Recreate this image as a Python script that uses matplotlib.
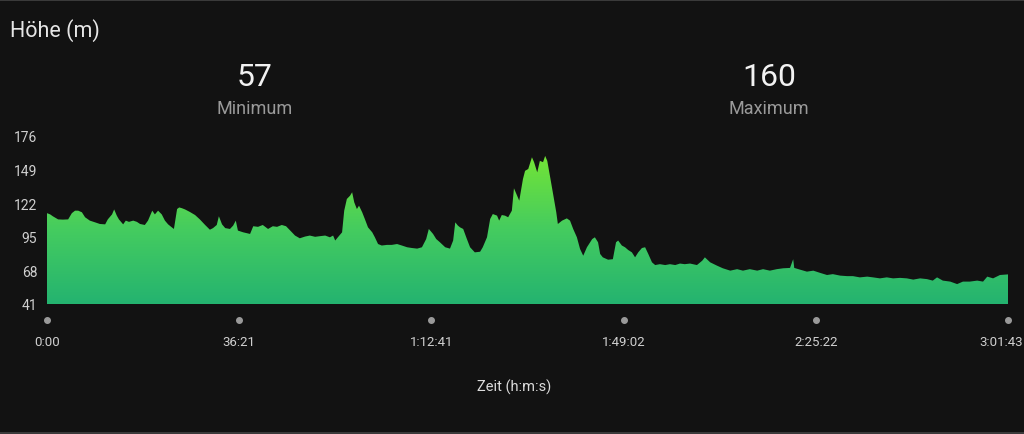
import matplotlib
matplotlib.use('Agg')
import matplotlib.pyplot as plt
import numpy as np
from matplotlib.colors import LinearSegmentedColormap
from matplotlib.patches import Rectangle
from matplotlib.transforms import blended_transform_factory, ScaledTranslation

# time in minutes since start, elevation in metres
minutes = [
    0.0, 0.6, 1.1, 2.1, 3.0, 4.0, 4.7, 5.3, 5.9, 6.6, 7.2, 8.1, 9.1, 10.0, 11.0,
    11.5, 12.3, 12.7, 13.2, 13.6, 14.4, 14.9, 15.5, 16.3, 17.0, 17.6, 18.5, 19.1,
    19.9, 20.4, 21.0, 21.7, 22.3, 22.9, 23.6, 24.0, 24.6, 25.0, 25.5, 26.1, 27.0,
    28.0, 28.9, 29.9, 30.8, 31.4, 32.1, 32.5, 33.1, 33.7, 34.6, 35.2, 35.7, 36.1,
    37.1, 38.4, 39.0, 39.9, 40.8, 41.8, 42.7, 43.5, 44.4, 45.2, 46.0, 46.9, 47.8,
    48.8, 49.7, 50.7, 51.6, 52.6, 53.5, 54.1, 54.5, 55.0, 55.8, 56.2, 56.7, 57.3,
    57.7, 58.1, 58.6, 59.0, 59.6, 60.1, 60.7, 61.5, 62.0, 62.6, 63.3, 64.3, 65.2,
    66.2, 67.1, 68.1, 69.0, 70.0, 70.9, 71.7, 72.2, 73.0, 73.6, 74.3, 75.3, 76.2,
    76.8, 77.2, 77.7, 78.1, 78.7, 79.4, 80.0, 80.9, 81.9, 82.4, 83.2, 83.8, 84.3,
    85.1, 85.5, 86.0, 86.6, 87.2, 87.9, 88.3, 88.9, 89.3, 90.0, 90.4, 91.0, 91.7,
    92.1, 92.7, 93.2, 93.8, 94.2, 94.6, 95.1, 95.7, 96.3, 96.6, 97.4, 98.3, 98.9,
    99.5, 100.2, 100.8, 101.4, 102.1, 103.1, 103.6, 104.2, 104.6, 105.1, 106.1,
    107.0, 107.6, 108.0, 108.7, 109.3, 109.9, 110.6, 111.2, 111.8, 112.5, 113.1,
    113.7, 114.4, 115.0, 115.9, 116.9, 117.8, 118.8, 119.7, 120.6, 121.6, 122.9,
    123.9, 124.4, 125.4, 126.7, 127.8, 129.2, 130.5, 131.6, 132.9, 134.3, 135.4,
    136.7, 138.0, 139.2, 140.5, 141.1, 141.3, 142.4, 143.7, 144.9, 146.2, 147.5,
    148.6, 150.0, 151.3, 152.4, 153.7, 155.1, 156.2, 157.5, 158.8, 160.0, 161.3,
    162.6, 163.8, 165.1, 166.4, 167.5, 168.3, 169.4, 170.8, 172.1, 173.2, 174.5,
    175.9, 177.0, 177.8, 178.9, 180.2, 181.72,
]
elevation = [
    114, 113, 111.5, 109, 108.8, 109, 114, 116, 116, 114.7, 110.7, 108, 106.6,
    105.3, 105, 109, 113, 117, 112, 109, 105, 108, 107, 108, 107, 105.3, 104.5,
    108, 116, 113, 116, 113, 108, 105, 102.6, 101.3, 117.3, 118.6, 118, 117, 115,
    112.5, 109, 104.5, 100.7, 102, 104.5, 111.5, 105, 102, 101.3, 104, 108, 100,
    98.6, 97.3, 103.5, 103, 104.5, 101.3, 103.5, 103, 104.5, 103.5, 100, 96, 93.8,
    95.2, 96, 95, 95.5, 96, 94.6, 96, 92, 94.6, 98.6, 116, 125.4, 128,
    130.8, 122.7, 117.3, 120, 114.7, 109.3, 102.6, 98.6, 94.6, 89.2, 88, 88.5, 88.5,
    89.2, 88, 86.6, 86, 85.5, 86.6, 93.2, 101.3, 97.3, 93.2, 90.6, 86.6, 85.5,
    92, 106.6, 104, 102.6, 101.3, 93.2, 86.6, 82.5, 83, 86.6, 94.6, 109.3, 113.3,
    112, 108, 112.5, 112, 110.7, 116, 134, 128, 124, 141.4, 148, 149.5, 158.9,
    155, 146.8, 156, 155, 160, 156, 144, 129.4, 114.7, 105.3, 108, 109.8, 108,
    101.3, 94.6, 85.2, 79.8, 86.6, 93.2, 94.6, 90.6, 81.2, 78.5, 76.6,
    77, 90.6, 92, 88, 86.6, 84.4, 82.5, 78.5, 82.5, 86, 86.6,
    81.2, 74.5, 72.3, 73, 72.3, 73, 72.3, 73.5, 73, 73.5, 72.3,
    75.8, 78.5, 74.5, 71.8, 69.7, 67.8, 69, 67.8, 69, 67.8, 69,
    67.8, 69, 69.7, 70, 77, 70, 68.6, 67, 67.8, 66, 64.3,
    65, 63.8, 63.4, 63.4, 62.4, 63, 62.4, 61.6, 62.4, 61.6, 62,
    61.6, 60.6, 61.6, 61, 59.8, 62.4, 59.8, 59, 57, 59, 59,
    59.8, 59, 63, 61.6, 64.3, 64.8,
]

y_ticks = [41, 68, 95, 122, 149, 176]
x_ticks = [0, 36.35, 72.68, 109.03, 145.37, 181.72]
x_labels = ['0:00', '36:21', '1:12:41', '1:49:02', '2:25:22', '3:01:43']

BG = '#121212'
plt.rcParams['font.family'] = ['Roboto', 'DejaVu Sans']

fig = plt.figure(figsize=(10.24, 4.35), dpi=100, facecolor=BG)
ax = fig.add_axes([47 / 1024, 1 - 305 / 435, 961 / 1024, 168 / 435])
ax.set_facecolor(BG)

x = np.array(minutes)
y = np.array(elevation)
poly = ax.fill_between(x, y, y_ticks[0], color='none', lw=0)
cmap = LinearSegmentedColormap.from_list('elev', ['#24b370', '#45cc5f', '#74e535'])
grad = np.linspace(0, 1, 256).reshape(-1, 1)
img = ax.imshow(grad, cmap=cmap, origin='lower', aspect='auto',
                extent=[x[0], x[-1], y_ticks[0], 162], zorder=2)
img.set_clip_path(poly.get_paths()[0], transform=ax.transData)

ax.set_xlim(0, 181.72)
ax.set_ylim(41, 176)
for s in ax.spines.values():
    s.set_visible(False)
ax.set_yticks(y_ticks)
ax.set_xticks(x_ticks)
ax.set_xticklabels(x_labels)
ax.tick_params(axis='y', length=0, pad=7, labelsize=10, labelcolor='#cfcfcf')
ax.tick_params(axis='x', length=0, pad=22, labelsize=9.5, labelcolor='#cfcfcf')
# the last label sits a little to the left so it stays inside the card
last = ax.get_xticklabels()[-1]
last.set_transform(last.get_transform() + ScaledTranslation(-0.07, 0, fig.dpi_scale_trans))

trans = blended_transform_factory(ax.transData, ax.transAxes)
ax.plot(x_ticks, [-0.095] * len(x_ticks), 'o', ms=4, color='#9a9a9a',
        transform=trans, clip_on=False)

fig.text(10 / 1024, 1 - 31 / 435, 'Höhe (m)', color='#e6e6e6', fontsize=15.5,
         va='center', ha='left')
fig.text(255 / 1024, 1 - 77 / 435, str(int(min(elevation))), color='#f2f2f2',
         fontsize=23, ha='center', va='center')
fig.text(255 / 1024, 1 - 109 / 435, 'Minimum', color='#9a9a9a', fontsize=13,
         ha='center', va='center')
fig.text(769 / 1024, 1 - 77 / 435, str(int(max(elevation))), color='#f2f2f2',
         fontsize=23, ha='center', va='center')
fig.text(769 / 1024, 1 - 109 / 435, 'Maximum', color='#9a9a9a', fontsize=13,
         ha='center', va='center')
fig.text(514 / 1024, 1 - 387 / 435, 'Zeit (h:m:s)', color='#dcdcdc',
         fontsize=10.5, ha='center', va='center')

# thin frame lines at top and bottom of the screenshot
fig.patches.append(Rectangle((0, 1 - 2 / 435), 1, 2 / 435, transform=fig.transFigure,
                             color='#3a3a3a', lw=0))
fig.patches.append(Rectangle((0, 0), 1, 2 / 435, transform=fig.transFigure,
                             color='#3a3a3a', lw=0))

fig.savefig('out.png', dpi=100, facecolor=BG)
